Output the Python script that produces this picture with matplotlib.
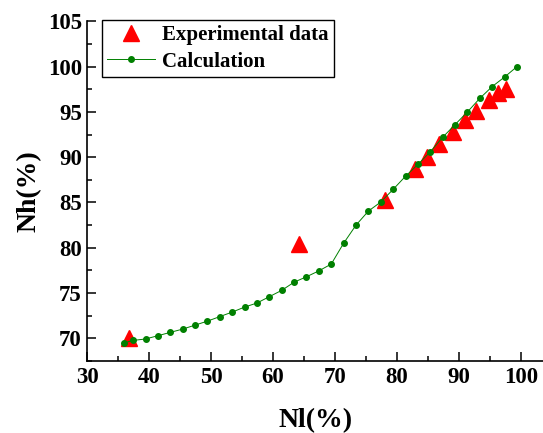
import numpy as np
import matplotlib.pyplot as plt
from matplotlib.ticker import MultipleLocator

# --- data ---
exp_nl = [36.8, 64.2, 78.0, 83.0, 84.9, 86.8, 89.0, 91.0, 92.7, 94.8, 96.4, 97.7]
exp_nh = [70.05, 80.4, 85.3, 88.7, 90.05, 91.4, 92.8, 94.1, 95.1, 96.3, 97.1, 97.55]

calc_nl = [35.9, 37.4, 39.4, 41.4, 43.4, 45.4, 47.4, 49.4, 51.4, 53.4, 55.4, 57.4,
           59.4, 61.4, 63.4, 65.4, 67.4, 69.4, 71.4, 73.4, 75.4, 77.4, 79.4, 81.4,
           83.4, 85.4, 87.4, 89.4, 91.4, 93.4, 95.4, 97.4, 99.4]
calc_nh = [69.5, 69.77, 69.93, 70.29, 70.66, 71.02, 71.46, 71.9, 72.4, 72.9, 73.45, 73.9,
           74.6, 75.3, 76.2, 76.8, 77.45, 78.2, 80.5, 82.5, 84.05, 85.05, 86.45, 87.9,
           89.2, 90.6, 92.2, 93.6, 95.0, 96.5, 97.8, 98.85, 100.0]

plt.rcParams['font.family'] = ['Liberation Serif', 'DejaVu Serif']
plt.rcParams['font.weight'] = 'bold'

fig = plt.figure(figsize=(5.43, 4.33), dpi=100)
ax = fig.add_axes([0.1608, 0.1663, 0.8392, 0.7845])

ax.plot(exp_nl, exp_nh, linestyle='none', marker='^', color='#ff0000',
        markersize=11, label='Experimental data', zorder=3)
ax.plot(calc_nl, calc_nh, color='#008000', lw=0.7, marker='o', markersize=4,
        label='Calculation', zorder=4)

ax.set_xlim(30, 103.6)
ax.set_ylim(67.5, 105)
ax.xaxis.set_major_locator(MultipleLocator(10))
ax.xaxis.set_minor_locator(MultipleLocator(5))
ax.yaxis.set_major_locator(MultipleLocator(5))
ax.yaxis.set_minor_locator(MultipleLocator(2.5))
ax.tick_params(which='major', direction='in', length=6.5, width=1.1,
               labelsize=16.5, pad=4)
ax.tick_params(which='minor', direction='in', length=3.5, width=1.1)
for lab in ax.get_xticklabels() + ax.get_yticklabels():
    lab.set_fontweight('bold')

ax.spines['top'].set_visible(False)
ax.spines['right'].set_visible(False)
ax.spines['left'].set_linewidth(1.2)
ax.spines['bottom'].set_linewidth(1.2)

ax.set_xlabel('Nl(%)', fontsize=20, fontweight='bold', labelpad=15)
ax.set_ylabel('Nh(%)', fontsize=20, fontweight='bold', labelpad=4)

leg = ax.legend(loc='upper left', bbox_to_anchor=(0.032, 1.003), borderaxespad=0,
                fancybox=False, edgecolor='black', framealpha=1,
                prop={'size': 15, 'weight': 'bold'}, handlelength=2.3,
                handletextpad=0.35, borderpad=0.25, labelspacing=0.3)
leg.get_frame().set_linewidth(1.0)

fig.savefig('out.png', dpi=100)
